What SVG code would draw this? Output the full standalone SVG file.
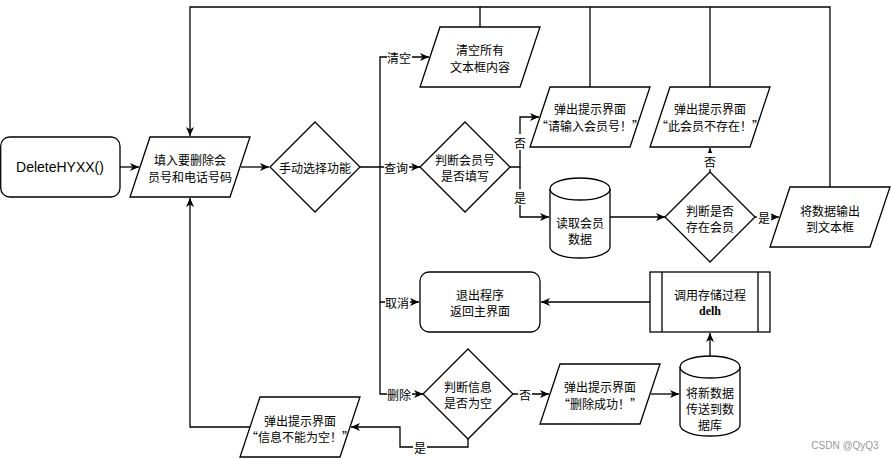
<svg xmlns="http://www.w3.org/2000/svg" width="891" height="459" viewBox="0 0 891 459">
<defs>
<marker id="arr" markerUnits="userSpaceOnUse" markerWidth="10" markerHeight="10" viewBox="0 0 10 10" refX="9" refY="5" orient="auto">
<path d="M0,1 L9,5 L0,9 L2.5,5 z" fill="#000"/>
</marker>
<style>
.s{fill:#fff;stroke:#000;stroke-width:1.3}
.e{fill:none;stroke:#000;stroke-width:1.3}
.t{font-family:"Noto Sans CJK SC","Liberation Sans",sans-serif;font-size:12px;fill:#000;text-anchor:middle;dominant-baseline:central}
.lb{fill:#fff}
</style>
</defs>
<rect width="891" height="459" fill="#fff"/>
<g id="connectors">
<path class="e" d="M120,167 H139" marker-end="url(#arr)"/>
<path class="e" d="M241,167 H269" marker-end="url(#arr)"/>
<path class="e" d="M360,167 H380 V57 H429" marker-end="url(#arr)"/>
<path class="e" d="M380,167 H420" marker-end="url(#arr)"/>
<path class="e" d="M380,167 V302 H419" marker-end="url(#arr)"/>
<path class="e" d="M380,302 V394 H423" marker-end="url(#arr)"/>
<path class="e" d="M510,167 H520 V117 H539" marker-end="url(#arr)"/>
<path class="e" d="M520,167 V217 H549" marker-end="url(#arr)"/>
<path class="e" d="M610,217 H665" marker-end="url(#arr)"/>
<path class="e" d="M710,172 V148" marker-end="url(#arr)"/>
<path class="e" d="M755,217 H779" marker-end="url(#arr)"/>
<path class="e" d="M480,27 V7 H190 V136" marker-end="url(#arr)"/>
<path class="e" d="M590,87 V7"/>
<path class="e" d="M710,87 V7"/>
<path class="e" d="M830,187 V7 H480"/>
<path class="e" d="M650,302 H541" marker-end="url(#arr)"/>
<path class="e" d="M513,394 H549" marker-end="url(#arr)"/>
<path class="e" d="M651,394 H679" marker-end="url(#arr)"/>
<path class="e" d="M710,356 V333" marker-end="url(#arr)"/>
<path class="e" d="M468,439 V447 H400 V427 H351" marker-end="url(#arr)"/>
<path class="e" d="M250,427 H190 V198" marker-end="url(#arr)"/>
<rect class="lb" x="387" y="49" width="25" height="16"/>
<text class="t" x="399" y="57">清空</text>
<rect class="lb" x="384" y="159" width="25" height="16"/>
<text class="t" x="396" y="167">查询</text>
<rect class="lb" x="385" y="294" width="25" height="16"/>
<text class="t" x="397" y="302">取消</text>
<rect class="lb" x="387" y="386" width="25" height="16"/>
<text class="t" x="399" y="394">删除</text>
<rect class="lb" x="513" y="134" width="14" height="16"/>
<text class="t" x="520" y="142">否</text>
<rect class="lb" x="513" y="189" width="14" height="16"/>
<text class="t" x="520" y="197">是</text>
<rect class="lb" x="703" y="153" width="14" height="16"/>
<text class="t" x="710" y="161">否</text>
<rect class="lb" x="757" y="209" width="14" height="16"/>
<text class="t" x="764" y="217">是</text>
<rect class="lb" x="518" y="386" width="14" height="16"/>
<text class="t" x="525" y="394">否</text>
<rect class="lb" x="413" y="439" width="14" height="16"/>
<text class="t" x="420" y="447">是</text>
</g>
<g id="start">
<rect class="s" x="0.7" y="137" width="119.3" height="60" rx="9"/>
<text class="t" x="60" y="167" style="font-family:'Liberation Sans',sans-serif;font-size:14px">DeleteHYXX()</text>
</g>
<g id="input">
<path class="s" d="M150,137 H250 L230,197 H130 Z"/>
<text class="t" x="190" y="159">填入要删除会</text>
<text class="t" x="190" y="176">员号和电话号码</text>
</g>
<g id="choose">
<path class="s" d="M315,122 L360,167 L315,212 L270,167 Z"/>
<text class="t" x="315" y="167">手动选择功能</text>
</g>
<g id="clear">
<path class="s" d="M440,27 H540 L520,87 H420 Z"/>
<text class="t" x="480" y="49">清空所有</text>
<text class="t" x="480" y="66">文本框内容</text>
</g>
<g id="checkid">
<path class="s" d="M465,122 L510,167 L465,212 L420,167 Z"/>
<text class="t" x="465" y="159">判断会员号</text>
<text class="t" x="465" y="175">是否填写</text>
</g>
<g id="msg1">
<path class="s" d="M550,87 H650 L630,147 H530 Z"/>
<text class="t" x="590" y="108">弹出提示界面</text>
<text class="t" x="590" y="125">“请输入会员号！”</text>
</g>
<g id="msg2">
<path class="s" d="M670,87 H770 L750,147 H650 Z"/>
<text class="t" x="710" y="108">弹出提示界面</text>
<text class="t" x="710" y="125">“此会员不存在！”</text>
</g>
<g id="read">
<path class="s" d="M550,189 A30,11 0 0 1 610,189 V247 A30,11 0 0 1 550,247 Z"/>
<path class="e" d="M550,189 A30,11 0 0 0 610,189"/>
<text class="t" x="580" y="222">读取会员</text>
<text class="t" x="580" y="238">数据</text>
</g>
<g id="exists">
<path class="s" d="M710,172 L755,217 L710,262 L665,217 Z"/>
<text class="t" x="710" y="210">判断是否</text>
<text class="t" x="710" y="226">存在会员</text>
</g>
<g id="output">
<path class="s" d="M790,187 H890 L870,247 H770 Z"/>
<text class="t" x="830" y="210">将数据输出</text>
<text class="t" x="830" y="226">到文本框</text>
</g>
<g id="exit">
<rect class="s" x="420" y="272" width="120" height="60" rx="9"/>
<text class="t" x="480" y="294">退出程序</text>
<text class="t" x="480" y="310">返回主界面</text>
</g>
<g id="proc">
<rect class="s" x="650" y="272" width="120" height="60"/>
<path class="e" d="M662,272 V332 M758,272 V332"/>
<text class="t" x="710" y="294">调用存储过程</text>
<text class="t" x="710" y="311" style="font-family:'Liberation Serif',serif;font-weight:bold">delh</text>
</g>
<g id="checkinfo">
<path class="s" d="M468,349 L513,394 L468,439 L423,394 Z"/>
<text class="t" x="468" y="386">判断信息</text>
<text class="t" x="468" y="402">是否为空</text>
</g>
<g id="msg3">
<path class="s" d="M560,364 H660 L640,424 H540 Z"/>
<text class="t" x="600" y="386">弹出提示界面</text>
<text class="t" x="600" y="403">“删除成功！”</text>
</g>
<g id="save">
<path class="s" d="M680,367 A30,11 0 0 1 740,367 V425 A30,11 0 0 1 680,425 Z"/>
<path class="e" d="M680,367 A30,11 0 0 0 740,367"/>
<text class="t" x="710" y="392">将新数据</text>
<text class="t" x="710" y="408">传送到数</text>
<text class="t" x="710" y="424">据库</text>
</g>
<g id="msg4">
<path class="s" d="M260,397 H360 L340,457 H240 Z"/>
<text class="t" x="300" y="420">弹出提示界面</text>
<text class="t" x="300" y="436">“信息不能为空！”</text>
</g>
<text x="845" y="445" style="font-family:'Liberation Sans',sans-serif;font-size:10px;fill:#999;text-anchor:middle;dominant-baseline:central">CSDN @QyQ3</text>
</svg>
